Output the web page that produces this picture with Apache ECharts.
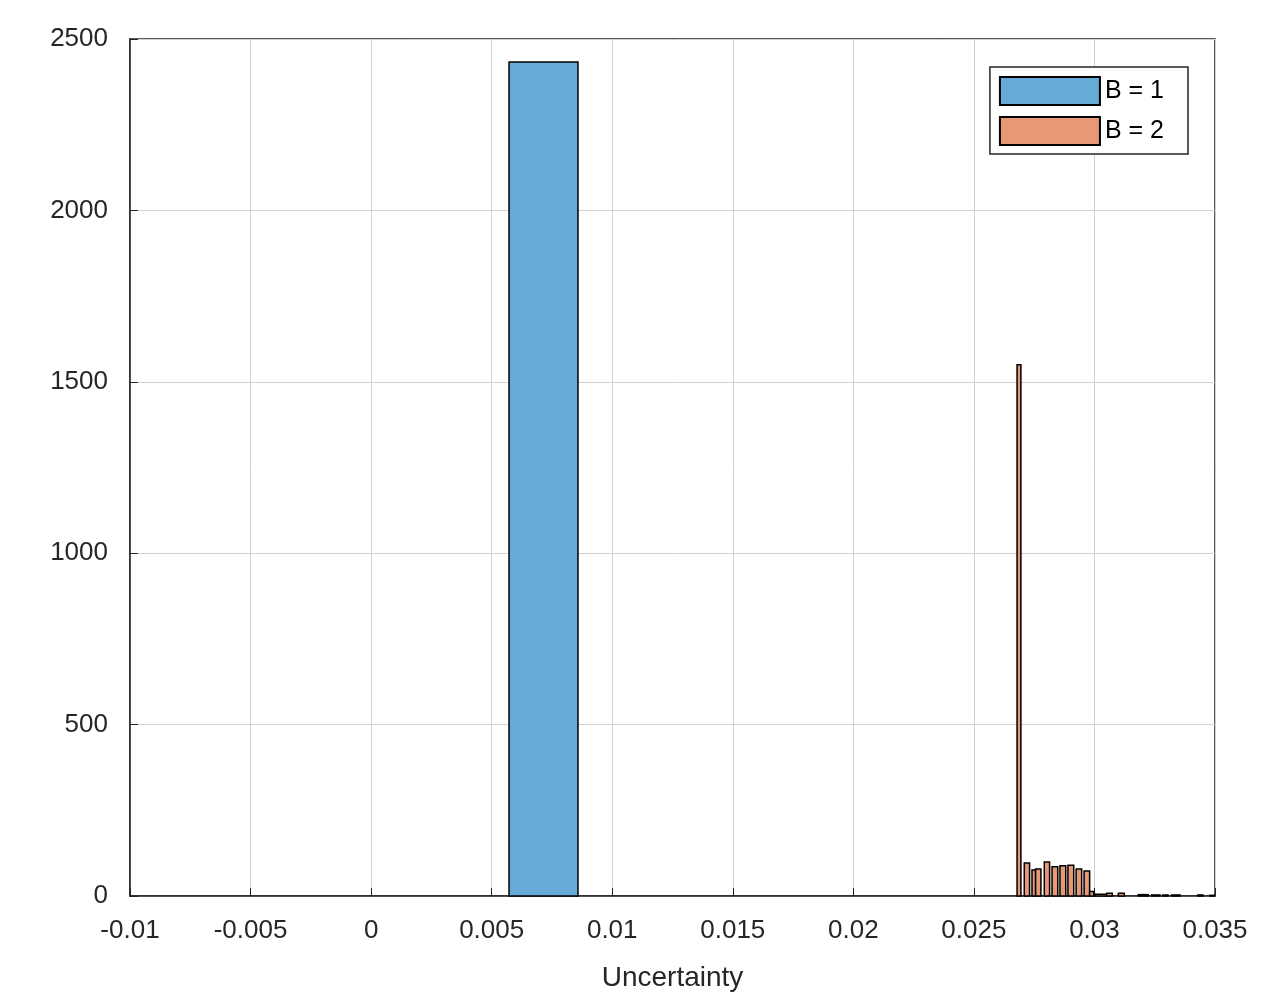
<!DOCTYPE html>
<html>
<head>
<meta charset="utf-8">
<script src="https://cdn.jsdelivr.net/npm/echarts@6/dist/echarts.min.js"></script>
<style>html,body{margin:0;background:#fff}#main{width:1266px;height:1008px}</style>
</head>
<body>
<div id="main"></div>
<script>
// B = 1 histogram (one bin)
const b1Start = [0.00572];
const b1End = [0.00858];
const b1Count = [2433];

// B = 2 histogram bins
const b2Start = [0.02679, 0.02709, 0.02741, 0.02756, 0.02792, 0.02824, 0.02857, 0.02890, 0.02924, 0.02957, 0.02980,
  0.03002, 0.03051, 0.03099, 0.03182, 0.03237, 0.03284, 0.03320, 0.03429, 0.03479];
const b2End = [0.02695, 0.02731, 0.02756, 0.02778, 0.02814, 0.02848, 0.02881, 0.02914, 0.02947, 0.02980, 0.02997,
  0.03051, 0.03074, 0.03124, 0.03223, 0.03272, 0.03305, 0.03355, 0.03450, 0.03497];
const b2Count = [1550, 96, 76, 79, 99, 85, 88, 90, 79, 73, 13,
  5, 8, 8, 4, 3, 3, 3, 3, 2];

const xTicks = { min: -0.01, max: 0.035, step: 0.005 };
const yTicks = { min: 0, max: 2500, step: 500 };

function toData(starts, ends, counts) {
    return starts.map((s, i) => [s, ends[i], counts[i]]);
}

function renderBar(params, api) {
    const p0 = api.coord([api.value(0), 0]);
    const p1 = api.coord([api.value(1), api.value(2)]);
    return {
        type: 'rect',
        shape: { x: p0[0], y: p1[1], width: p1[0] - p0[0], height: p0[1] - p1[1] },
        style: api.style()
    };
}

const font = 'Liberation Sans, Arial, sans-serif';
const gridLine = { show: true, lineStyle: { color: '#d0d0d0', width: 1 } };

let chart = echarts.init(document.getElementById('main'));
chart.setOption({
    animation: false,
    backgroundColor: '#fff',
    grid: { left: 130, right: 51, top: 39, bottom: 112, show: true, borderColor: '#262626', borderWidth: 1.5 },
    legend: {
        top: 67, right: 78,
        orient: 'vertical',
        itemWidth: 100, itemHeight: 28, itemGap: 10,
        padding: [9, 24, 8, 9],
        borderColor: '#262626', borderWidth: 1.5, backgroundColor: '#fff',
        textStyle: { fontFamily: font, fontSize: 25, color: '#000', width: 80 },
        data: [{ name: 'B = 1', icon: 'rect' }, { name: 'B = 2', icon: 'rect' }]
    },
    xAxis: {
        type: 'value', min: xTicks.min, max: xTicks.max, interval: xTicks.step,
        name: 'Uncertainty', nameLocation: 'middle', nameGap: 68,
        nameTextStyle: { fontFamily: font, fontSize: 28, color: '#262626' },
        axisLine: { onZero: false, lineStyle: { color: '#262626', width: 1.5 } },
        axisTick: { inside: true, length: 8, lineStyle: { color: '#262626' } },
        axisLabel: { fontFamily: font, fontSize: 26, color: '#262626', margin: 22,
            formatter: v => String(+v.toFixed(3)) },
        splitLine: gridLine
    },
    yAxis: {
        type: 'value', min: yTicks.min, max: yTicks.max, interval: yTicks.step,
        axisLine: { show: true, onZero: false, lineStyle: { color: '#262626', width: 1.5 } },
        axisTick: { show: true, inside: true, length: 8, lineStyle: { color: '#262626' } },
        axisLabel: { fontFamily: font, fontSize: 26, color: '#262626', margin: 22,
            formatter: v => String(v) },
        splitLine: gridLine
    },
    series: [
        {
            name: 'B = 1', type: 'custom', renderItem: renderBar,
            itemStyle: { color: '#66aad7', borderColor: '#000', borderWidth: 1.5 },
            encode: { x: [0, 1], y: 2 },
            data: toData(b1Start, b1End, b1Count)
        },
        {
            name: 'B = 2', type: 'custom', renderItem: renderBar,
            itemStyle: { color: '#e89875', borderColor: '#000', borderWidth: 1.5 },
            encode: { x: [0, 1], y: 2 },
            data: toData(b2Start, b2End, b2Count)
        }
    ]
});
</script>
</body>
</html>
